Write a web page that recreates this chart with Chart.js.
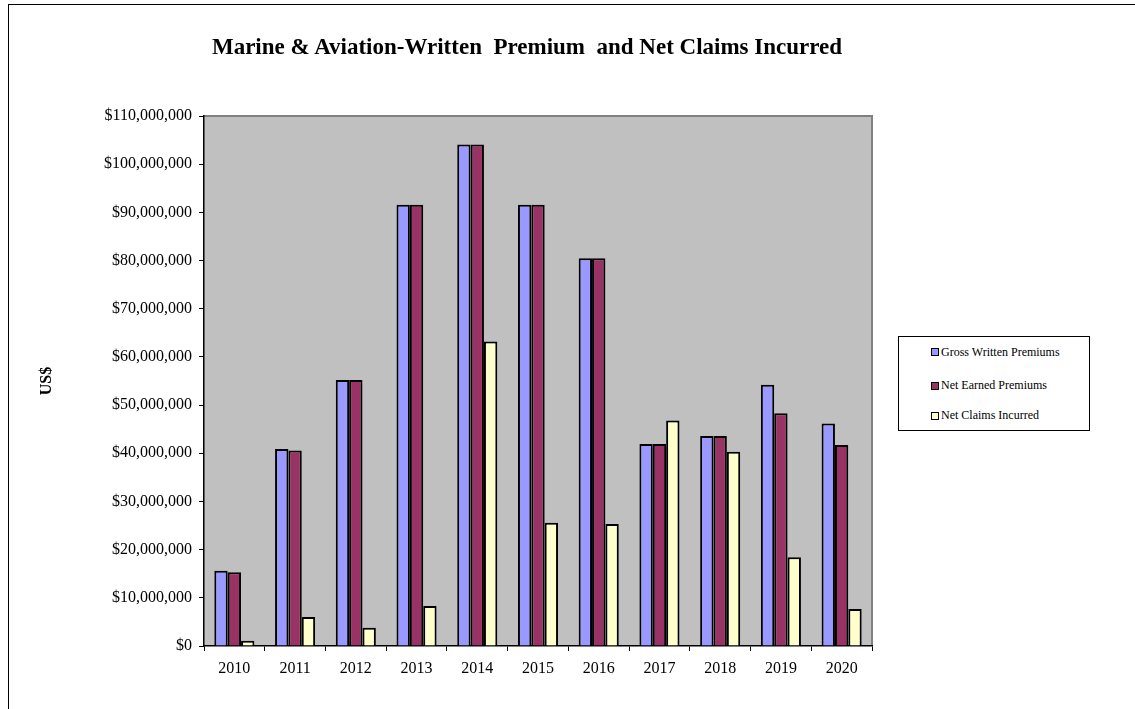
<!DOCTYPE html>
<html><head><meta charset="utf-8">
<script src="https://cdn.jsdelivr.net/npm/chart.js@4.4.1/dist/chart.umd.min.js"></script>
<style>
html,body{margin:0;padding:0;background:#fff;overflow:hidden}
#wrap{position:relative;width:1135px;height:709px;overflow:hidden}
#frame{position:absolute;left:8px;top:4px;width:1200px;height:800px;border:1.5px solid #000;box-sizing:border-box}
canvas{position:absolute;left:0;top:0}
#title{position:absolute;left:0;width:1054px;top:34px;text-align:center;font:bold 23px "Liberation Serif";white-space:pre;color:#000}
#legend{position:absolute;left:898px;top:336px;width:192px;height:95px;border:1px solid #000;box-sizing:border-box;font:12px "Liberation Serif";color:#000;background:#fff}
.item{position:absolute;left:32px;height:16px;display:flex;align-items:center;white-space:nowrap}
.sw{width:6px;height:6px;border:1.5px solid #000;margin-right:2px}
</style>
</head><body>
<div id="wrap">
<div id="frame"></div>
<canvas id="c" width="1135" height="709"></canvas>
<div id="title">Marine &amp; Aviation-Written  Premium  and Net Claims Incurred</div>
<div id="legend"></div>
</div>
<script>
const years = ['2010','2011','2012','2013','2014','2015','2016','2017','2018','2019','2020'];
const grossWritten = [15600000, 40900000, 55200000, 91600000, 104100000, 91600000, 80500000, 41900000, 43600000, 54200000, 46200000];
const netEarned    = [15300000, 40600000, 55200000, 91600000, 104100000, 91600000, 80500000, 41900000, 43600000, 48300000, 41700000];
const netClaims    = [1100000, 6000000, 3800000, 8300000, 63200000, 25600000, 25300000, 46800000, 40300000, 18400000, 7700000];
const seriesNames = ['Gross Written Premiums', 'Net Earned Premiums', 'Net Claims Incurred'];
const seriesColors = ['#9999FF', '#993366', '#FFFFCC'];
const yTicks = [0, 10000000, 20000000, 30000000, 40000000, 50000000, 60000000, 70000000, 80000000, 90000000, 100000000, 110000000];

const FONT = 'Liberation Serif';

const bgPlugin = {
  id: 'plotBg',
  beforeDraw(chart) {
    const {ctx, chartArea: a} = chart;
    ctx.save();
    ctx.fillStyle = '#C0C0C0';
    ctx.fillRect(a.left, a.top, a.right - a.left, a.bottom - a.top);
    ctx.strokeStyle = '#808080';
    ctx.lineWidth = 2;
    ctx.beginPath();
    ctx.moveTo(a.left, a.top);
    ctx.lineTo(a.right, a.top);
    ctx.lineTo(a.right, a.bottom);
    ctx.stroke();
    ctx.restore();
  }
};

const allSeries = [grossWritten, netEarned, netClaims];
const datasets = allSeries.map((d, i) => ({
  label: seriesNames[i],
  data: d,
  backgroundColor: seriesColors[i],
  borderColor: '#000',
  borderWidth: 2,
  borderSkipped: 'bottom',
  categoryPercentage: 0.66,
  barPercentage: 1.0
}));

new Chart(document.getElementById('c'), {
  type: 'bar',
  data: { labels: years, datasets },
  plugins: [bgPlugin],
  options: {
    responsive: false,
    animation: false,
    devicePixelRatio: 1,
    layout: { padding: { top: 116, right: 263, bottom: 23, left: 0 } },
    plugins: { legend: { display: false }, title: { display: false }, tooltip: { enabled: false } },
    scales: {
      x: {
        grid: { offset: true, drawOnChartArea: false, color: '#000', tickLength: 5, lineWidth: 1 },
        border: { color: '#000', width: 1.5 },
        ticks: { color: '#000', font: { family: FONT, size: 16 }, padding: 8, maxRotation: 0 },
        afterFit(s) { s.height = 40; }
      },
      y: {
        min: 0, max: 110000000,
        afterBuildTicks(s) { s.ticks = yTicks.map(v => ({ value: v })); },
        grid: { drawOnChartArea: false, color: '#000', tickLength: 5, lineWidth: 1 },
        border: { color: '#000', width: 1.5 },
        ticks: {
          color: '#000', font: { family: FONT, size: 16 }, padding: 7,
          callback: v => '$' + Number(v).toLocaleString('en-US')
        },
        title: { display: true, text: 'US$', color: '#000', font: { family: FONT, size: 16, weight: 'bold' }, padding: { top: 37, bottom: 0 } },
        afterFit(s) { s.width = 204; }
      }
    }
  }
});

const rowTops = [351, 384.5, 414.5];
const leg = document.getElementById('legend');
seriesNames.forEach((n, i) => {
  const it = document.createElement('div');
  it.className = 'item';
  it.style.top = (rowTops[i] - 336 - 8) + 'px';
  const sw = document.createElement('span');
  sw.className = 'sw';
  sw.style.background = seriesColors[i];
  const tx = document.createElement('span');
  tx.textContent = n;
  it.appendChild(sw); it.appendChild(tx);
  leg.appendChild(it);
});
</script>
</body></html>
